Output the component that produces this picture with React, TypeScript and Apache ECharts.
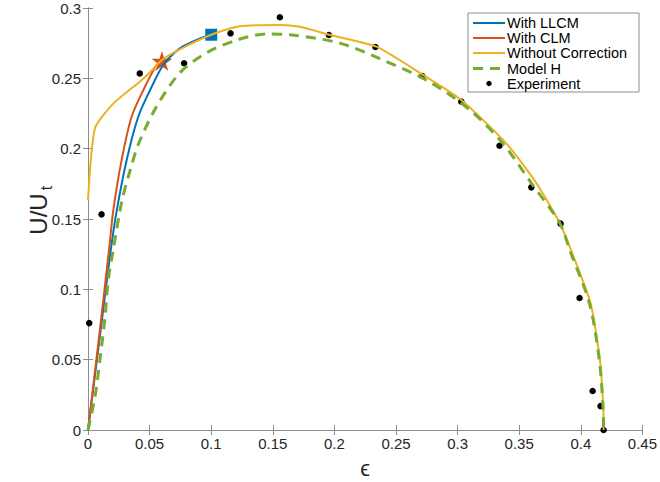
import React, { useEffect, useRef } from "react";
import * as echarts from "echarts";

// ---------- data ----------
const llcmEps = [0, 0.009, 0.0185, 0.0233, 0.0314, 0.0408, 0.0517, 0.0611, 0.0746, 0.09, 0.1];
const llcmU = [0, 0.062, 0.128, 0.156, 0.192, 0.2227, 0.244, 0.2595, 0.2713, 0.278, 0.281];

const clmEps = [0, 0.0087, 0.0173, 0.0205, 0.0273, 0.0354, 0.0462, 0.0557, 0.06];
const clmU = [0, 0.064, 0.13, 0.156, 0.192, 0.2227, 0.244, 0.2595, 0.263];

const woEps = [0, 0.0057, 0.0205, 0.042, 0.05, 0.06, 0.0746, 0.1, 0.123, 0.156, 0.172, 0.196, 0.234, 0.272, 0.303, 0.3395, 0.364, 0.383, 0.392, 0.408, 0.4155, 0.4182, 0.4185];
const woU = [0.1635, 0.2147, 0.232, 0.2476, 0.254, 0.263, 0.2706, 0.281, 0.287, 0.288, 0.2867, 0.281, 0.2725, 0.2524, 0.2346, 0.2038, 0.1754, 0.147, 0.128, 0.09, 0.05, 0.0166, 0];

const mhEps = [0, 0.0057, 0.0097, 0.0138, 0.0165, 0.0205, 0.0273, 0.034, 0.0408, 0.055, 0.0746, 0.096, 0.12, 0.145, 0.164, 0.2044, 0.2368, 0.277, 0.31, 0.3366, 0.36, 0.383, 0.391, 0.407, 0.415, 0.418, 0.4185];
const mhU = [0, 0.0237, 0.05, 0.08, 0.107, 0.128, 0.162, 0.184, 0.203, 0.229, 0.254, 0.268, 0.277, 0.2815, 0.281, 0.275, 0.264, 0.2476, 0.2275, 0.2038, 0.1754, 0.147, 0.128, 0.09, 0.05, 0.0166, 0];

const expEps = [0.001, 0.011, 0.042, 0.078, 0.1157, 0.1557, 0.1955, 0.2333, 0.2714, 0.303, 0.334, 0.3598, 0.3836, 0.399, 0.4096, 0.416, 0.4185];
const expU = [0.076, 0.1533, 0.2535, 0.2607, 0.282, 0.2934, 0.2808, 0.2723, 0.2517, 0.2334, 0.2021, 0.1725, 0.1467, 0.0938, 0.0277, 0.017, 0];

const starPoint = [0.06, 0.263];
const squarePoint = [0.1, 0.281];

const legendNames = ["With LLCM", "With CLM", "Without Correction", "Model H", "Experiment"];

const C_BLUE = "#0072BD";
const C_RED = "#D95319";
const C_YEL = "#EDB120";
const C_GRN = "#77AC30";
const AXIS = "#8c8c8c";
const TXT = "#262626";
const FONT = "Liberation Sans, Arial, Helvetica, sans-serif";

const zip = (a: number[], b: number[]) => a.map((v, i) => [v, b[i]]);

const STAR =
  "path://M100,0 L122.34,69.26 L195.11,69.1 L136.14,111.74 L158.78,180.9 L100,138 L41.22,180.9 L63.86,111.74 L4.89,69.1 L77.66,69.26 Z";

export default function App() {
  const ref = useRef<HTMLDivElement>(null);
  useEffect(() => {
    if (!ref.current) return;
    const chart = echarts.init(ref.current, undefined, { renderer: "svg" });

    const axisCommon = {
      type: "value",
      axisLine: { show: true, lineStyle: { color: AXIS, width: 1 } },
      axisTick: { show: true, inside: true, length: 5, lineStyle: { color: AXIS } },
      splitLine: { show: false },
    };

    // legend graphic
    const lx = 468, ly = 13, lw = 171, lh = 79;
    const rowY = [23, 38, 53, 68.5, 83.5];
    const lineX1 = 473, lineX2 = 505, textX = 507;
    const legendEls: any[] = [
      {
        type: "rect",
        shape: { x: lx, y: ly, width: lw, height: lh },
        style: { fill: "#ffffff", stroke: AXIS, lineWidth: 1 },
        z: 100,
      },
    ];
    const legendStyles = [
      { color: C_BLUE, dash: null as any, w: 2 },
      { color: C_RED, dash: null as any, w: 2 },
      { color: C_YEL, dash: null as any, w: 2 },
      { color: C_GRN, dash: [10, 7], w: 3 },
    ];
    legendStyles.forEach((s, i) => {
      legendEls.push({
        type: "line",
        shape: { x1: lineX1, y1: rowY[i], x2: lineX2, y2: rowY[i] },
        style: { stroke: s.color, lineWidth: s.w, lineDash: s.dash || undefined },
        z: 101,
      });
    });
    legendEls.push({
      type: "circle",
      shape: { cx: (lineX1 + lineX2) / 2, cy: rowY[4], r: 2.7 },
      style: { fill: "#000" },
      z: 101,
    });
    legendNames.forEach((n, i) => {
      legendEls.push({
        type: "text",
        x: textX,
        y: rowY[i],
        style: {
          text: n,
          fill: "#000",
          font: `14.5px ${FONT}`,
          verticalAlign: "middle",
          align: "left",
        },
        z: 101,
      });
    });

    const option: any = {
      animation: false,
      backgroundColor: "#ffffff",
      grid: { left: 88, right: 17, top: 8, bottom: 52, containLabel: false },
      xAxis: [
        {
          ...axisCommon,
          min: 0,
          max: 0.45,
          interval: 0.05,
          position: "bottom",
          axisLabel: { color: TXT, fontSize: 15, fontFamily: FONT, margin: 6 },
        },
        {
          ...axisCommon,
          min: 0,
          max: 0.45,
          interval: 0.05,
          position: "top",
          axisLabel: { show: false },
        },
      ],
      yAxis: [
        {
          ...axisCommon,
          min: 0,
          max: 0.3,
          interval: 0.05,
          position: "left",
          axisLabel: { color: TXT, fontSize: 15, fontFamily: FONT, margin: 7 },
        },
        {
          ...axisCommon,
          min: 0,
          max: 0.3,
          interval: 0.05,
          position: "right",
          axisLabel: { show: false },
        },
      ],
      series: [
        {
          name: legendNames[0],
          type: "line",
          data: zip(llcmEps, llcmU),
          smooth: 0.3,
          showSymbol: false,
          lineStyle: { color: C_BLUE, width: 2 },
          itemStyle: { color: C_BLUE },
        },
        {
          name: legendNames[1],
          type: "line",
          data: zip(clmEps, clmU),
          smooth: 0.3,
          showSymbol: false,
          lineStyle: { color: C_RED, width: 2 },
          itemStyle: { color: C_RED },
        },
        {
          name: legendNames[2],
          type: "line",
          data: zip(woEps, woU),
          smooth: 0.2,
          showSymbol: false,
          lineStyle: { color: C_YEL, width: 2 },
          itemStyle: { color: C_YEL },
        },
        {
          name: legendNames[3],
          type: "line",
          data: zip(mhEps, mhU),
          smooth: 0.3,
          showSymbol: false,
          lineStyle: { color: C_GRN, width: 3, type: [10, 7] },
          itemStyle: { color: C_GRN },
        },
        {
          name: legendNames[4],
          type: "scatter",
          data: zip(expEps, expU),
          symbol: "circle",
          symbolSize: 6.5,
          itemStyle: { color: "#000", opacity: 1 },
        },
        {
          name: "CLM limit",
          type: "scatter",
          data: [starPoint],
          symbol: STAR,
          symbolSize: [21, 20],
          symbolOffset: [0, 1],
          itemStyle: { color: C_RED, opacity: 1 },
        },
        {
          name: "LLCM limit",
          type: "scatter",
          data: [squarePoint],
          symbol: "rect",
          symbolSize: 12,
          itemStyle: { color: C_BLUE, opacity: 1 },
        },
      ],
      graphic: [
        {
          type: "text",
          x: 365,
          y: 468,
          style: {
            text: "ϵ",
            fill: TXT,
            font: `22px ${FONT}`,
            align: "center",
            verticalAlign: "middle",
          },
        },
        {
          type: "text",
          x: 38,
          y: 214,
          rotation: Math.PI / 2,
          style: {
            text: "U/U",
            fill: TXT,
            font: `24px ${FONT}`,
            align: "center",
            verticalAlign: "middle",
          },
        },
        {
          type: "text",
          x: 46,
          y: 188,
          rotation: Math.PI / 2,
          style: {
            text: "t",
            fill: TXT,
            font: `16px ${FONT}`,
            align: "center",
            verticalAlign: "middle",
          },
        },
        ...legendEls,
      ],
    };
    chart.setOption(option);
    return () => chart.dispose();
  }, []);

  return <div ref={ref} style={{ width: 660, height: 482, position: "absolute", left: 0, top: 0 }} />;
}
